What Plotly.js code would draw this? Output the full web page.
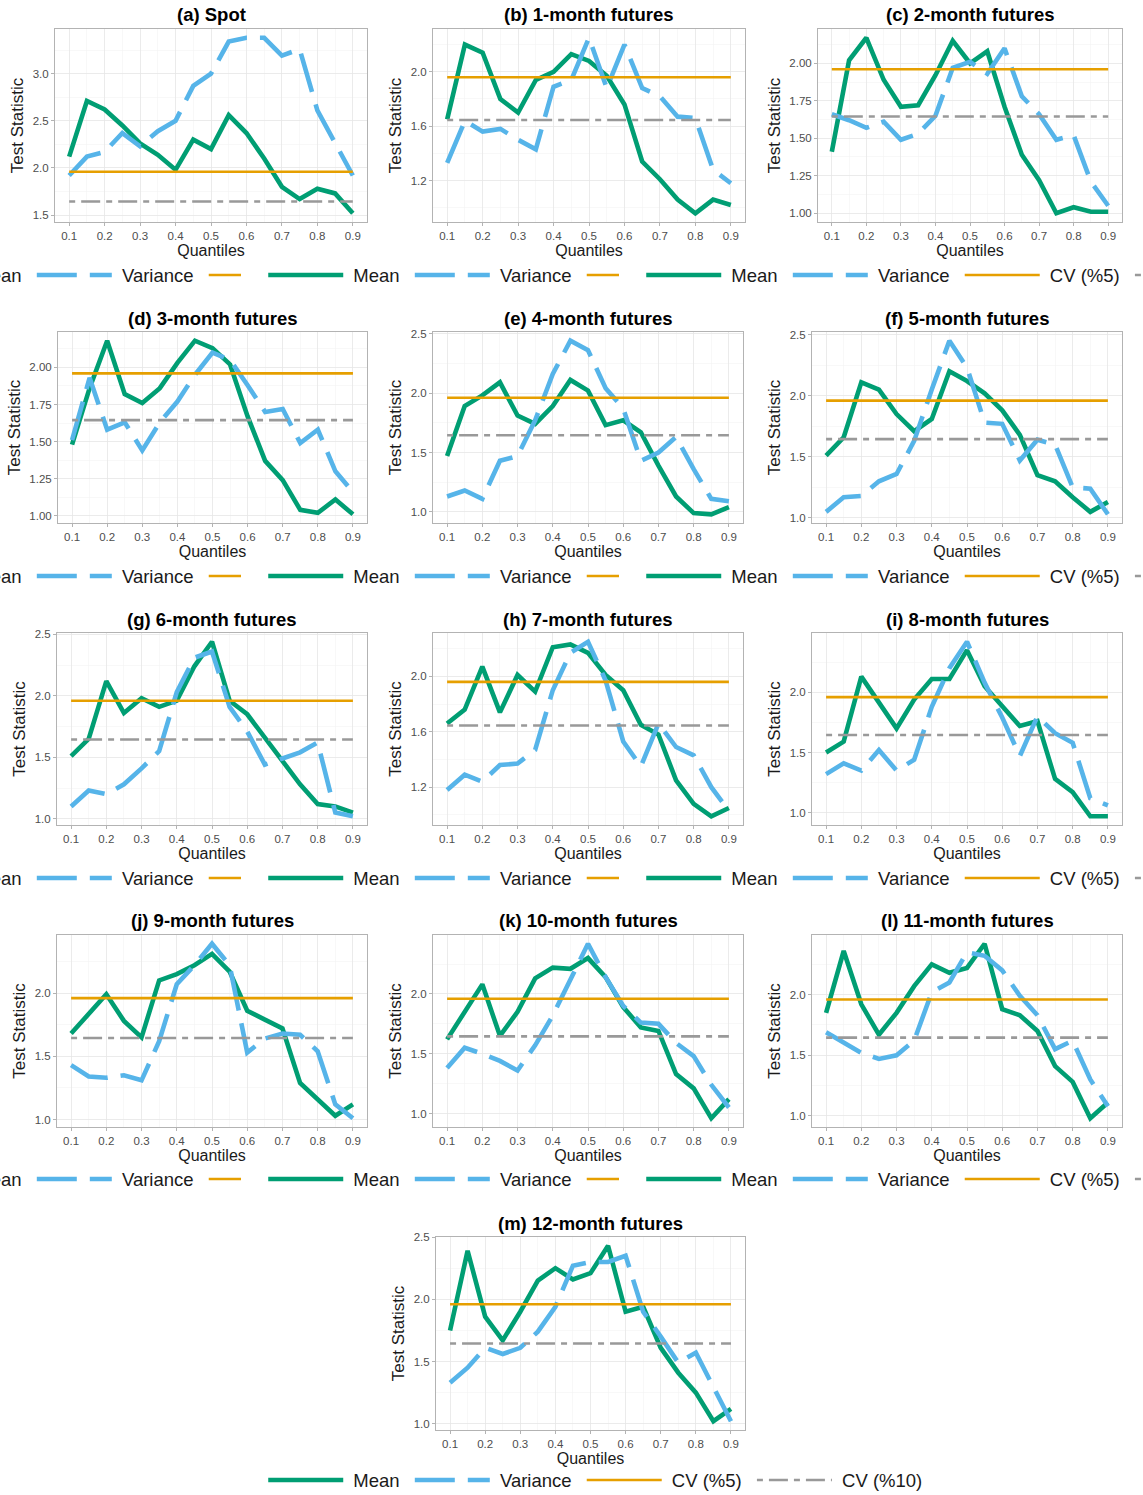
<!DOCTYPE html>
<html><head><meta charset="utf-8">
<script src="https://cdn.plot.ly/plotly-3.0.1.min.js"></script>
<style>body{margin:0;background:#fff}#chart{width:1143px;height:1495px}</style>
</head><body><div id="chart"></div>
<script>
// ---------------- DATA ----------------
const quantiles = [0.1,0.15,0.2,0.25,0.3,0.35,0.4,0.45,0.5,0.55,0.6,0.65,0.7,0.75,0.8,0.85,0.9];
const CV5 = 1.96;
const CV10 = 1.645;
const seriesNames = ['Mean','Variance','CV (%5)','CV (%10)'];
const panelTitles = ['(a) Spot','(b) 1-month futures','(c) 2-month futures','(d) 3-month futures',
  '(e) 4-month futures','(f) 5-month futures','(g) 6-month futures','(h) 7-month futures',
  '(i) 8-month futures','(j) 9-month futures','(k) 10-month futures','(l) 11-month futures','(m) 12-month futures'];

const mean_a = [2.12,2.71,2.62,2.45,2.26,2.14,1.98,2.30,2.20,2.56,2.37,2.10,1.80,1.67,1.78,1.73,1.52];
const var_a  = [1.92,2.12,2.17,2.37,2.23,2.39,2.50,2.87,3.00,3.34,3.38,3.38,3.19,3.26,2.61,2.27,1.92];
const mean_b = [1.65,2.20,2.14,1.80,1.70,1.94,2.00,2.13,2.08,1.97,1.76,1.34,1.21,1.06,0.96,1.06,1.02];
const var_b  = [1.33,1.64,1.56,1.58,1.50,1.43,1.89,1.94,2.25,1.88,2.20,1.88,1.82,1.67,1.66,1.28,1.18];
const mean_c = [1.41,2.02,2.17,1.89,1.71,1.72,1.92,2.15,2.00,2.08,1.71,1.39,1.22,1.00,1.04,1.01,1.01];
const var_c  = [1.66,1.62,1.57,1.61,1.49,1.53,1.65,1.97,2.01,1.93,2.10,1.78,1.66,1.49,1.52,1.21,1.05];
const mean_d = [1.48,1.86,2.18,1.82,1.76,1.86,2.03,2.18,2.13,2.02,1.67,1.37,1.24,1.04,1.02,1.11,1.01];
const var_d  = [1.51,1.93,1.58,1.63,1.44,1.63,1.77,1.95,2.10,2.05,1.88,1.70,1.72,1.49,1.58,1.30,1.16];
const mean_e = [1.47,1.89,1.98,2.09,1.81,1.74,1.89,2.11,2.02,1.73,1.77,1.67,1.39,1.13,0.99,0.98,1.04];
const var_e  = [1.13,1.18,1.11,1.43,1.47,1.77,2.16,2.44,2.36,2.04,1.87,1.43,1.50,1.63,1.36,1.11,1.09];
const mean_f = [1.51,1.66,2.11,2.05,1.85,1.71,1.81,2.20,2.12,2.02,1.88,1.68,1.35,1.30,1.17,1.05,1.13];
const var_f  = [1.05,1.17,1.18,1.30,1.36,1.63,2.05,2.45,2.23,1.78,1.77,1.47,1.64,1.60,1.25,1.24,1.03];
const mean_g = [1.51,1.65,2.12,1.86,1.98,1.91,1.96,2.24,2.44,1.96,1.85,1.66,1.46,1.28,1.12,1.10,1.05];
const var_g  = [1.10,1.23,1.20,1.28,1.41,1.55,2.03,2.31,2.36,1.91,1.71,1.44,1.49,1.54,1.62,1.05,1.02];
const mean_h = [1.66,1.76,2.07,1.74,2.01,1.89,2.21,2.23,2.17,2.01,1.90,1.65,1.58,1.25,1.08,0.99,1.05];
const var_h  = [1.18,1.29,1.24,1.36,1.37,1.47,1.90,2.17,2.25,1.97,1.53,1.35,1.66,1.49,1.43,1.20,1.03];
const mean_i = [1.50,1.59,2.13,1.91,1.70,1.94,2.11,2.11,2.35,2.05,1.88,1.72,1.76,1.28,1.17,0.97,0.97];
const var_i  = [1.32,1.41,1.35,1.52,1.35,1.44,1.88,2.20,2.42,2.08,1.79,1.47,1.80,1.66,1.58,1.12,1.06];
const mean_j = [1.68,1.83,1.99,1.78,1.65,2.10,2.15,2.22,2.31,2.17,1.86,1.79,1.72,1.29,1.16,1.03,1.12];
const var_j  = [1.43,1.34,1.33,1.35,1.31,1.62,2.07,2.22,2.39,2.22,1.53,1.64,1.68,1.67,1.54,1.12,1.01];
const mean_k = [1.62,1.85,2.08,1.65,1.85,2.13,2.22,2.21,2.30,2.14,1.89,1.72,1.69,1.33,1.21,0.96,1.12];
const var_k  = [1.38,1.55,1.50,1.44,1.36,1.57,1.82,2.13,2.42,2.14,1.90,1.76,1.75,1.59,1.48,1.24,1.05];
const mean_l = [1.85,2.36,1.92,1.67,1.85,2.07,2.25,2.18,2.22,2.42,1.88,1.83,1.70,1.41,1.28,0.98,1.11];
const var_l  = [1.69,1.61,1.52,1.47,1.50,1.62,2.02,2.10,2.35,2.32,2.20,1.99,1.83,1.55,1.62,1.30,1.08];
const mean_m = [1.75,2.39,1.86,1.67,1.90,2.15,2.25,2.16,2.21,2.43,1.90,1.94,1.61,1.41,1.25,1.02,1.12];
const var_m  = [1.33,1.45,1.61,1.56,1.61,1.74,1.94,2.27,2.30,2.30,2.35,1.90,1.70,1.49,1.57,1.29,1.02];

const meanSeries = [mean_a,mean_b,mean_c,mean_d,mean_e,mean_f,mean_g,mean_h,mean_i,mean_j,mean_k,mean_l,mean_m];
const varSeries  = [var_a,var_b,var_c,var_d,var_e,var_f,var_g,var_h,var_i,var_j,var_k,var_l,var_m];

// ---------------- LAYOUT / STYLE ----------------
const W = 1143, H = 1495;
const FONT = 'Liberation Sans, Arial, Helvetica, sans-serif';
const NB = '\u00a0';
// plot areas in px: [left, right, top, bottom]
const boxes = [
  [55,367,29,222],[433,745,29,222],[818,1122,29,222],
  [58,367,332,523],[433,743,332,523],[812,1122,332,523],
  [57,367,633,825],[433,743,633,825],[812,1122,633,825],
  [57,367,935,1127],[433,743,935,1127],[812,1122,935,1127],
  [436,745,1237,1430]
];
const yDtick = [0.5,0.4,0.25,0.25,0.5,0.5,0.5,0.4,0.5,0.5,0.5,0.5,0.5];
const yFmt   = ['.1f','.1f','.2f','.2f','.1f','.1f','.1f','.1f','.1f','.1f','.1f','.1f','.1f'];
const legendRowY = [276,276,276,577,577,577,879,879,879,1180,1180,1180,1481];
const legendCenterX = [209,587,965,209,587,965,209,587,965,209,587,965,587];

const colors = {mean:'#009E73', variance:'#56B4E9', cv5:'#E69F00', cv10:'#999999'};

const traces = [];
const layout = {
  width: W, height: H,
  margin: {l:0, r:0, t:0, b:0, autoexpand:false},
  paper_bgcolor: '#ffffff', plot_bgcolor: '#ffffff',
  font: {family: FONT, color: '#1a1a1a'},
  showlegend: true,
  hovermode: false,
  annotations: []
};

const px2x = p => p / W;
const px2y = p => 1 - p / H;
const lbl = s => NB + s + NB;

for (let i = 0; i < 13; i++) {
  const n = i + 1;
  const xa = 'x' + (n === 1 ? '' : n), ya = 'y' + (n === 1 ? '' : n);
  const lg = 'legend' + (n === 1 ? '' : n);
  const xq = [quantiles[0], quantiles[quantiles.length - 1]];
  traces.push({x: quantiles, y: meanSeries[i], xaxis: xa, yaxis: ya, legend: lg, name: lbl(seriesNames[0]),
    type: 'scatter', mode: 'lines', line: {color: colors.mean, width: 4.6}});
  traces.push({x: quantiles, y: varSeries[i], xaxis: xa, yaxis: ya, legend: lg, name: lbl(seriesNames[1]),
    type: 'scatter', mode: 'lines', line: {color: colors.variance, width: 4.6, dash: '40px,13px'}});
  traces.push({x: xq, y: [CV5, CV5], xaxis: xa, yaxis: ya, legend: lg, name: lbl(seriesNames[2]),
    type: 'scatter', mode: 'lines', line: {color: colors.cv5, width: 2.6}});
  traces.push({x: xq, y: [CV10, CV10], xaxis: xa, yaxis: ya, legend: lg, name: lbl(seriesNames[3]),
    type: 'scatter', mode: 'lines', line: {color: colors.cv10, width: 2.6, dash: '6px,6px,19px,6px'}});

  const all = meanSeries[i].concat(varSeries[i], [CV5, CV10]);
  const lo = Math.min(...all), hi = Math.max(...all), ex = (hi - lo) * 0.05;
  const b = boxes[i];
  const axisCommon = {
    showline: true, mirror: true, linecolor: '#b3b3b3', linewidth: 1,
    ticks: 'outside', ticklen: 3, tickcolor: '#b3b3b3', tickwidth: 1,
    tickfont: {size: 11.5, color: '#4d4d4d', family: FONT},
    gridcolor: '#e6e6e6', gridwidth: 0.8, zeroline: false, fixedrange: true
  };
  layout['xaxis' + (n === 1 ? '' : n)] = Object.assign({}, axisCommon, {
    domain: [px2x(b[0]), px2x(b[1])], anchor: ya,
    range: [0.06, 0.94], tick0: 0.1, dtick: 0.1, tickformat: '.1f',
    minor: {tick0: 0.1, dtick: 0.05, showgrid: true, gridcolor: '#f3f3f3', gridwidth: 0.6, ticks: ''},
    title: {text: 'Quantiles', font: {size: 16, color: '#1a1a1a', family: FONT}, standoff: 2}
  });
  layout['yaxis' + (n === 1 ? '' : n)] = Object.assign({}, axisCommon, {
    domain: [px2y(b[3]), px2y(b[2])], anchor: xa,
    range: [lo - ex, hi + ex], tick0: 0, dtick: yDtick[i], tickformat: yFmt[i],
    minor: {tick0: 0, dtick: yDtick[i] / 2, showgrid: true, gridcolor: '#f3f3f3', gridwidth: 0.6, ticks: ''},
    title: {text: 'Test Statistic', font: {size: 17, color: '#1a1a1a', family: FONT}, standoff: 4}
  });
  layout[lg] = {
    orientation: 'h', x: px2x(legendCenterX[i]), y: px2y(legendRowY[i]),
    xanchor: 'center', yanchor: 'middle', xref: 'paper', yref: 'paper',
    bgcolor: '#ffffff', borderwidth: 0, itemwidth: 75, traceorder: 'normal',
    title: {text: NB + NB, side: 'left'},
    font: {size: 18.5, color: '#1a1a1a', family: FONT}
  };
  layout.annotations.push({
    xref: 'paper', yref: 'paper', x: px2x((b[0] + b[1]) / 2), y: px2y(b[2] - 14),
    xanchor: 'center', yanchor: 'middle', showarrow: false,
    text: '<b>' + panelTitles[i] + '</b>', font: {size: 18.5, color: '#000000', family: FONT}
  });
}

Plotly.newPlot('chart', traces, layout, {displayModeBar: false, staticPlot: true});
</script></body></html>
